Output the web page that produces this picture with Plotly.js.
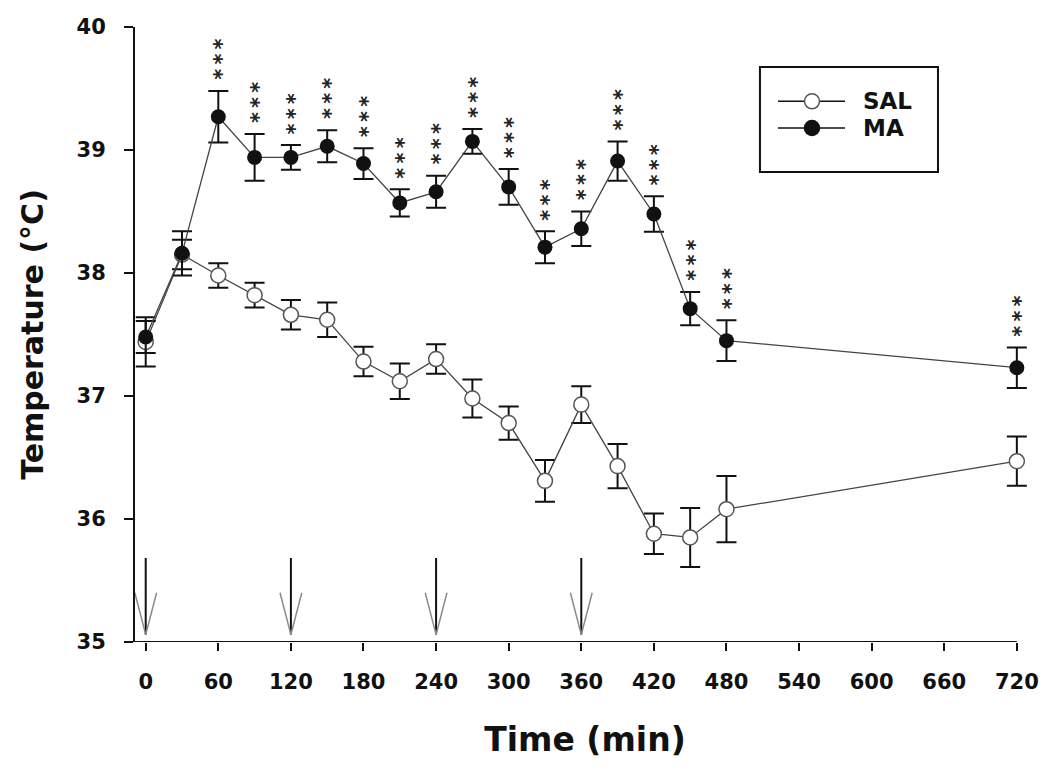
<!DOCTYPE html>
<html><head><meta charset="utf-8">
<script src="https://cdn.plot.ly/plotly-3.0.1.min.js"></script>
<style>html,body{margin:0;padding:0;background:#fff}#chart{width:1050px;height:774px}</style>
</head><body><div id="chart"></div>
<script>
// ---- data ----
const time = [0, 30, 60, 90, 120, 150, 180, 210, 240, 270, 300, 330, 360, 390, 420, 450, 480, 720];
const salMean = [37.44, 38.15, 37.98, 37.82, 37.66, 37.62, 37.28, 37.12, 37.30, 36.98, 36.78, 36.31, 36.93, 36.43, 35.88, 35.85, 36.08, 36.47];
const salSem  = [0.20, 0.12, 0.10, 0.10, 0.12, 0.14, 0.12, 0.145, 0.12, 0.155, 0.135, 0.17, 0.15, 0.18, 0.165, 0.24, 0.27, 0.20];
const maMean  = [37.48, 38.16, 39.27, 38.94, 38.94, 39.03, 38.89, 38.57, 38.66, 39.07, 38.70, 38.21, 38.36, 38.91, 38.48, 37.71, 37.45, 37.23];
const maSem   = [0.13, 0.18, 0.21, 0.19, 0.10, 0.13, 0.125, 0.11, 0.13, 0.10, 0.145, 0.13, 0.14, 0.16, 0.145, 0.135, 0.165, 0.165];
const maSig   = ['', '', '***', '***', '***', '***', '***', '***', '***', '***', '***', '***', '***', '***', '***', '***', '***', '***'];
const injectionTimes = [0, 120, 240, 360];
const xTicks = [0, 60, 120, 180, 240, 300, 360, 420, 480, 540, 600, 660, 720];
const yTicks = [35, 36, 37, 38, 39, 40];
const seriesNames = ['SAL', 'MA'];
const xTitle = 'Time (min)';
const yTitle = 'Temperature (°C)';

// ---- styling ----
const FONT = 'DejaVu Sans, Arial, sans-serif';
const INK = '#111';
const xEnd = xTicks[xTicks.length - 1];

const errStyle = {type: 'data', visible: true, color: INK, thickness: 2, width: 10};

const traces = [
  {
    x: time, y: salMean, name: seriesNames[0], type: 'scatter', mode: 'lines+markers',
    error_y: Object.assign({array: salSem}, errStyle),
    line: {color: '#444', width: 1.3},
    marker: {symbol: 'circle', size: 15, color: '#fff', line: {color: '#555', width: 1.5}},
    cliponaxis: false, showlegend: false
  },
  {
    x: time, y: maMean, name: seriesNames[1], type: 'scatter', mode: 'lines+markers',
    error_y: Object.assign({array: maSem}, errStyle),
    line: {color: '#444', width: 1.3},
    marker: {symbol: 'circle', size: 15, color: INK, line: {color: INK, width: 0}},
    cliponaxis: false, showlegend: false
  }
];

const annotations = [];
// significance stars, stacked vertically above the MA error bars (one rotated text per point)
time.forEach((t, i) => {
  const s = maSig[i];
  if (!s) return;
  annotations.push({
    x: t, y: maMean[i] + maSem[i], xref: 'x', yref: 'y',
    text: s.split('').join('\u2009'), showarrow: false, textangle: -90,
    xanchor: 'center', yanchor: 'bottom', yshift: 9, xshift: 4,
    font: {family: FONT, size: 21, color: '#222', weight: 'bold'}
  });
});

const shapes = [];
// x axis line (ends at last tick)
shapes.push({type: 'line', xref: 'x', yref: 'y', x0: -8.85, x1: xEnd, y0: yTicks[0], y1: yTicks[0],
  line: {color: INK, width: 2}});
// injection arrows
injectionTimes.forEach(t => {
  shapes.push({type: 'line', xref: 'x', yref: 'y', x0: t, x1: t, y0: 35.683, y1: 35.06,
    line: {color: INK, width: 2}});
  shapes.push({type: 'line', xref: 'x', yref: 'y', x0: t - 9, x1: t, y0: 35.40, y1: 35.06,
    line: {color: '#8a8a8a', width: 1.5}});
  shapes.push({type: 'line', xref: 'x', yref: 'y', x0: t + 9, x1: t, y0: 35.40, y1: 35.06,
    line: {color: '#8a8a8a', width: 1.5}});
});

// custom legend
const lg = {x0: 0.6944, x1: 0.8922, y0: 0.7642, y1: 0.9350, lx0: 0.7144, lx1: 0.7889, mx: 0.7522, tx: 0.8067, rows: [0.8792, 0.8358]};
shapes.push({type: 'rect', xref: 'paper', yref: 'paper', x0: lg.x0, x1: lg.x1, y0: lg.y0, y1: lg.y1,
  line: {color: INK, width: 2}, fillcolor: 'rgba(0,0,0,0)'});
seriesNames.forEach((nm, j) => {
  const yy = lg.rows[j];
  shapes.push({type: 'line', xref: 'paper', yref: 'paper', x0: lg.lx0, x1: lg.lx1, y0: yy, y1: yy,
    line: {color: INK, width: 1.5}});
  shapes.push({type: 'circle', xref: 'paper', yref: 'paper', xsizemode: 'pixel', ysizemode: 'pixel',
    xanchor: lg.mx, yanchor: yy, x0: -7.5, x1: 7.5, y0: -7.5, y1: 7.5,
    fillcolor: j === 0 ? '#fff' : INK, line: {color: j === 0 ? '#555' : INK, width: 1.5}});
  annotations.push({xref: 'paper', yref: 'paper', x: lg.tx, y: yy, text: nm, showarrow: false,
    xanchor: 'left', yanchor: 'middle',
    font: {family: FONT, size: 23, color: INK, weight: 'bold'}});
});

const layout = {
  width: 1050, height: 774,
  margin: {l: 135, r: 15, t: 27, b: 132},
  paper_bgcolor: '#fff', plot_bgcolor: '#fff',
  showlegend: false,
  font: {family: FONT, color: INK},
  xaxis: {
    range: [-8.85, 735], tickvals: xTicks, ticktext: xTicks.map(String),
    ticks: 'outside', ticklen: 8, tickwidth: 2, tickcolor: INK,
    showline: false, showgrid: false, zeroline: false,
    ticklabelstandoff: 13,
    tickfont: {family: FONT, size: 21, color: INK, weight: 'bold'},
    title: {text: xTitle, standoff: 34, font: {family: FONT, size: 33, color: INK, weight: 'bold'}},
    automargin: false
  },
  yaxis: {
    range: [35, 40], tickvals: yTicks, ticktext: yTicks.map(String),
    ticks: 'outside', ticklen: 9, tickwidth: 2, tickcolor: INK,
    showline: true, linewidth: 2, linecolor: INK, showgrid: false, zeroline: false,
    ticklabelstandoff: 14,
    tickfont: {family: FONT, size: 21, color: INK, weight: 'bold'},
    title: {text: yTitle, standoff: 24, font: {family: FONT, size: 30, color: INK, weight: 'bold'}},
    automargin: false
  },
  shapes: shapes,
  annotations: annotations
};

Plotly.newPlot('chart', traces, layout, {displayModeBar: false, staticPlot: true});
</script>
</body></html>
